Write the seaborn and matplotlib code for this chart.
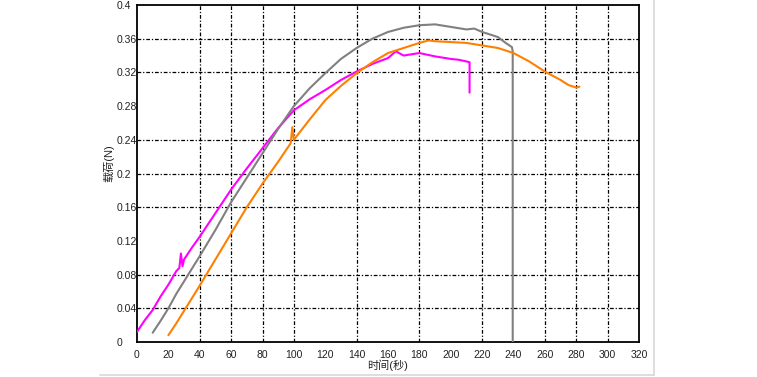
import numpy as np
import pandas as pd
import seaborn as sns
sns.set_theme(style='white')
import matplotlib.pyplot as plt
from matplotlib.lines import Line2D

plt.rcParams['font.family'] = ['Liberation Sans', 'Noto Sans CJK SC']

# magenta curve
mag_t = [0, 5, 10, 15, 20, 25, 27, 28, 29, 30, 35, 40, 50, 60, 70, 80, 90, 100,
         110, 120, 130, 140, 150, 160, 165, 170, 180, 190, 200, 205, 210, 212, 212]
mag_f = [0.012, 0.026, 0.038, 0.054, 0.068, 0.084, 0.088, 0.105, 0.090, 0.098, 0.112, 0.125,
         0.153, 0.181, 0.206, 0.230, 0.254, 0.275, 0.288, 0.299, 0.311, 0.321, 0.330, 0.337,
         0.345, 0.340, 0.343, 0.339, 0.336, 0.335, 0.333, 0.332, 0.296]

# grey curve
gry_t = [10, 15, 20, 25, 30, 35, 40, 50, 60, 70, 80, 90, 100, 110, 120, 130, 140, 150,
         160, 170, 180, 190, 200, 210, 215, 220, 230, 235, 239, 239.5, 239.5]
gry_f = [0.011, 0.025, 0.040, 0.057, 0.072, 0.087, 0.102, 0.133, 0.166, 0.195, 0.224, 0.253,
         0.280, 0.301, 0.319, 0.336, 0.349, 0.360, 0.368, 0.373, 0.376, 0.377, 0.374, 0.371,
         0.372, 0.368, 0.362, 0.355, 0.350, 0.345, 0.0]

# orange curve
org_t = [20, 25, 30, 35, 40, 50, 60, 70, 80, 90, 98, 99, 100, 110, 120, 130, 140, 150, 160,
         170, 180, 186, 190, 200, 210, 220, 230, 240, 250, 260, 270, 275, 280, 282]
org_f = [0.008, 0.022, 0.037, 0.052, 0.067, 0.098, 0.129, 0.160, 0.188, 0.214, 0.236, 0.255,
         0.240, 0.264, 0.287, 0.304, 0.319, 0.332, 0.343, 0.349, 0.355, 0.358, 0.357, 0.356,
         0.355, 0.352, 0.349, 0.343, 0.333, 0.321, 0.311, 0.305, 0.302, 0.303]

x_ticks = np.arange(0, 321, 20)
y_ticks = [0, 0.04, 0.08, 0.12, 0.16, 0.2, 0.24, 0.28, 0.32, 0.36, 0.4]
y_labels = ['0', '0.04', '0.08', '0.12', '0.16', '0.2', '0.24', '0.28', '0.32', '0.36', '0.4']
# gridlines that are visible in the original
grid_x = [40, 60, 80, 100, 140, 180, 220, 260, 280, 300]
grid_y = [0.04, 0.08, 0.16, 0.2, 0.24, 0.32, 0.36]

fig = plt.figure(figsize=(7.57, 3.77), dpi=100)
ax = fig.add_axes([137/757, 35/377, 502/757, 337/377])

for t, f, c in [(mag_t, mag_f, '#ff00ff'), (gry_t, gry_f, '#808080'), (org_t, org_f, '#ff8000')]:
    sns.lineplot(x=t, y=f, ax=ax, color=c, linewidth=1.5, sort=False, estimator=None, zorder=3)

ax.set_xlim(0, 320)
ax.set_ylim(0, 0.4)
ax.set_xticks(x_ticks)
ax.set_yticks(y_ticks)
ax.set_yticklabels(y_labels, ha='left')
ax.xaxis.remove_overlapping_locs = False
ax.yaxis.remove_overlapping_locs = False
ax.set_xticks(grid_x, minor=True)
ax.set_yticks(grid_y, minor=True)
ax.grid(False)
ax.grid(which='minor', color='black', linewidth=0.9, linestyle=(0, (3, 1.5, 1, 1.5)))
ax.set_axisbelow(True)
ax.tick_params(which='both', length=0, labelsize=7.5, colors='#222222')
ax.tick_params(axis='y', pad=15)
ax.tick_params(axis='x', pad=6)
for s in ax.spines.values():
    s.set_color('black')
    s.set_linewidth(1.3)

ax.set_xlabel('时间(秒)', fontsize=8, color='#222222')
ax.set_ylabel('载荷(N)', fontsize=8, color='#222222')
ax.xaxis.set_label_coords(0.5, -0.052)
ax.yaxis.set_label_coords(-0.045, 0.53)

# light frame of the figure panel
fig.add_artist(Line2D([100/757, 654/757], [2/377, 2/377], color='#d8d8d8', linewidth=1.2))
fig.add_artist(Line2D([654/757, 654/757], [2/377, 1], color='#d8d8d8', linewidth=1.2))

fig.savefig('out.png', dpi=100)
